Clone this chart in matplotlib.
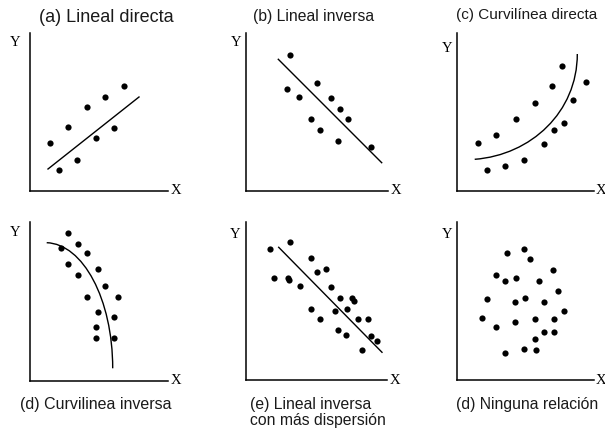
import matplotlib
matplotlib.use("Agg")
import matplotlib.pyplot as plt
from matplotlib.path import Path
from matplotlib.patches import PathPatch

W, H = 605, 432

# ---- data (panel-local units: px right / up from axis origin) ----
a_x = [20, 29, 38, 47, 57, 66, 75, 84, 94]
a_y = [48, 21, 64, 31, 84, 53, 94, 63, 105]
a_line_x = [18, 109]
a_line_y = [22, 94]

b_x = [44, 41.3, 53.3, 70.7, 84.7, 93.7, 101.7, 64.7, 73.7, 92, 124.7]
b_y = [136, 101.7, 94.3, 108.3, 92.7, 82, 71.7, 71.7, 60.7, 49.7, 43.7]
b_line_x = [32.3, 135.7]
b_line_y = [131.7, 28.3]

c_x = [20.7, 30, 39.3, 48.3, 59.3, 67, 77.7, 86.7, 94.7, 97.3, 106.7, 105.3, 116, 128.7]
c_y = [48.3, 20.7, 56, 25.3, 71.7, 31, 88.3, 46.7, 105, 60.7, 68, 125.3, 91, 108.7]
c_curve = [(17.7, 31.7), (74, 36), (120.3, 79), (120.3, 137)]

d_x = [38.3, 30.7, 47.7, 56.7, 38.3, 47.7, 67.7, 75.3, 56.7, 87.7, 67.7, 84.3, 66, 66, 84.3]
d_y = [147.7, 133.3, 137, 127.7, 117, 106, 112, 95, 84.3, 84.3, 69.3, 64.3, 53.7, 43.3, 43.3]
d_curve = [(16.7, 138.3), (53, 137), (82.7, 82), (82.7, 12.7)]

e_x = [24.3, 44.3, 65, 27.7, 41.7, 43, 53.7, 71, 80, 85, 65, 74, 88.7, 94, 101.3, 106,
       107.7, 92.3, 99.7, 112.3, 122, 125, 131, 115.7]
e_y = [131.3, 137.7, 122, 102, 102, 100.3, 94.3, 108, 111.3, 93, 71.3, 61, 68.7, 82, 71.3, 82,
       79.3, 50, 45.3, 61, 61, 43.7, 39.3, 29.7]
e_line_x = [32.7, 136]
e_line_y = [132.7, 27.7]

f_x = [50, 66.7, 73.3, 39, 48.3, 59, 82.3, 96, 30, 57.7, 68.3, 86.7, 100.7, 25.3, 39, 57.7,
       77.7, 97.3, 106.7, 86.7, 97.3, 77.7, 48.3, 66.7, 79]
f_y = [127, 131.3, 121, 105.3, 99.3, 102.3, 99.3, 109.7, 81, 77.7, 82, 77.7, 88.7, 62.3, 53, 57.7,
       61, 61, 68.7, 48.3, 48.3, 41, 27, 31.3, 30]

titles = ["(a) Lineal directa", "(b) Lineal inversa", "(c) Curvilínea directa",
          "(d) Curvilinea inversa", "(e) Lineal inversa\ncon más dispersión", "(d) Ninguna relación"]

# ---- layout (pixels) ----
fig = plt.figure(figsize=(W / 100, H / 100), dpi=100)
fig.patch.set_facecolor("white")

# origin x, origin y (from top), x-axis length, y-axis length
geom = [(30, 191, 138, 158), (246, 191, 142, 158), (457, 191, 137, 158),
        (30, 381, 138, 159), (246, 380, 141, 158), (457, 380, 137, 158)]
ylab_pos = [(-15, 148), (-10, 148), (-10, 143), (-15, 148), (-11, 145), (-10, 145)]
xlab_off = [8, 8, 6.5, 8, 8, 6.5]

def make_ax(i):
    ox, oy, xl, yl = geom[i]
    ax = fig.add_axes([ox / W, 1 - oy / H, xl / W, yl / H])
    ax.set_xlim(0, xl)
    ax.set_ylim(0, yl)
    ax.set_facecolor("none")
    for s in ("top", "right"):
        ax.spines[s].set_visible(False)
    for s in ("left", "bottom"):
        ax.spines[s].set_linewidth(1.1)
        ax.spines[s].set_color("black")
    ax.set_xticks([])
    ax.set_yticks([])
    yx, yy = ylab_pos[i]
    ax.text(yx, yy, "Y", family="Liberation Serif", fontsize=10.5, ha="center", va="center",
            clip_on=False)
    ax.text(xl + xlab_off[i], 0, "X", family="Liberation Serif", fontsize=10.5, ha="center",
            va="center", clip_on=False)
    return ax

dot = dict(color="black", s=20, linewidths=0, clip_on=False, zorder=3)
lkw = dict(color="black", lw=1.0, clip_on=False)

ax = make_ax(0)
ax.scatter(a_x, a_y, **dot)
ax.plot(a_line_x, a_line_y, **lkw)

ax = make_ax(1)
ax.scatter(b_x, b_y, **dot)
ax.plot(b_line_x, b_line_y, **lkw)

ax = make_ax(2)
ax.scatter(c_x, c_y, **dot)
ax.add_patch(PathPatch(Path(c_curve, [Path.MOVETO, Path.CURVE4, Path.CURVE4, Path.CURVE4]),
                       fill=False, ec="black", lw=1.0, clip_on=False))

ax = make_ax(3)
ax.scatter(d_x, d_y, **dot)
ax.add_patch(PathPatch(Path(d_curve, [Path.MOVETO, Path.CURVE4, Path.CURVE4, Path.CURVE4]),
                       fill=False, ec="black", lw=1.0, clip_on=False))

ax = make_ax(4)
ax.scatter(e_x, e_y, **dot)
ax.plot(e_line_x, e_line_y, **lkw)

ax = make_ax(5)
ax.scatter(f_x, f_y, **dot)

# ---- titles ----
tfont = "Liberation Sans"
def ftext(x, y, s, **kw):
    fig.text(x / W, 1 - y / H, s, family=tfont, color="#1a1a1a", va="center", **kw)

ftext(106.5, 17, titles[0], fontsize=13, ha="center")
ftext(313.5, 16, titles[1], fontsize=11.3, ha="center")
ftext(456.5, 15.5, titles[2], fontsize=11, ha="left")
ftext(20, 405, titles[3], fontsize=11.5, ha="left")
e1, e2 = titles[4].split("\n")
ftext(250, 405, e1, fontsize=11.3, ha="left")
ftext(250, 421, e2, fontsize=11.3, ha="left")
ftext(456, 405, titles[5], fontsize=11.3, ha="left")

fig.savefig("out.png", dpi=100)
